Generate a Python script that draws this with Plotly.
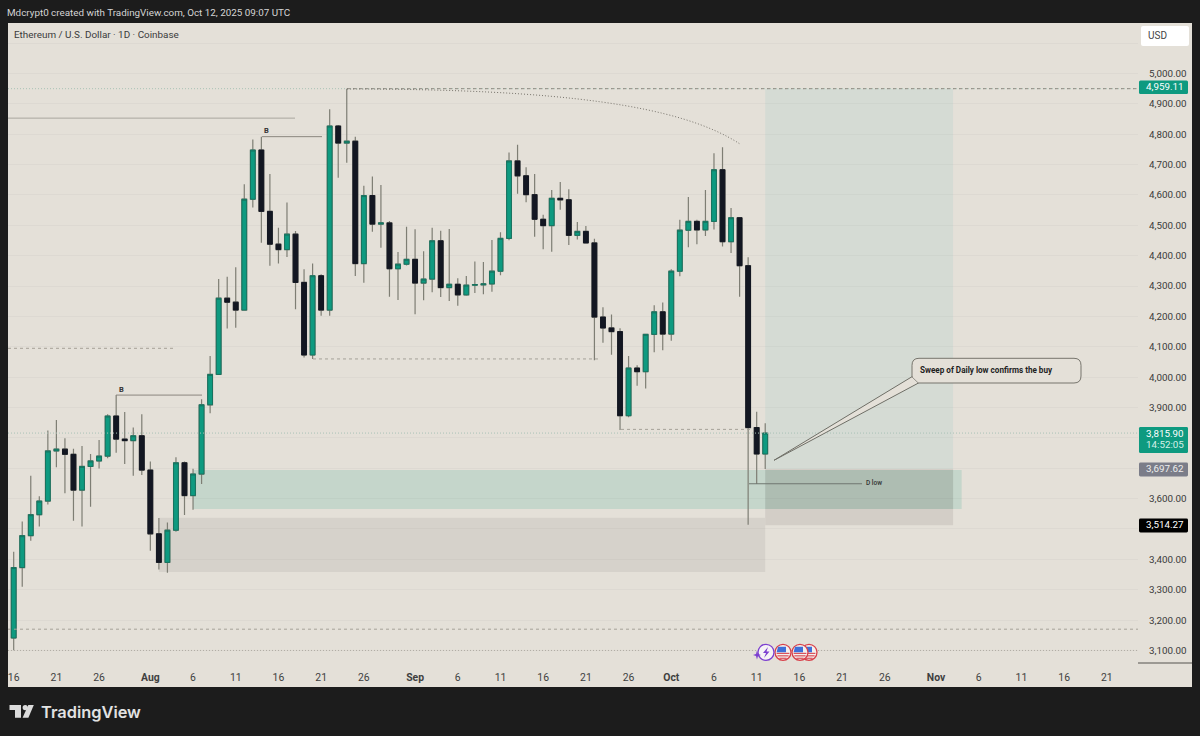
import pandas as pd
import plotly.graph_objects as go

# ---------- data ----------
first_date = "2025-07-16"
opens = [3141,3373,3478,3547,3592,3757,3763,3746,3628,3706,3724,3740,3872,3796,3791,3807,3694,3484,3390,3496,3718,3610,3681,3909,
         4009,4260,4247,4221,4586,4748,4546,4438,4420,4471,4312,4073,4334,4221,4827,4771,4777,4374,4598,4504,4508,4357,
         4372,4388,4310,4323,4449,4295,4306,4271,4303,4304,4307,4349,4457,4712,4663,4601,4520,4499,4589,4584,4467,4480,4442,4198,4162,4150,
         3873,4030,4018,4141,4215,4142,4349,4484,4513,4485,4513,4683,4446,4525,4367,3834,3747]
highs = [3425,3525,3675,3608,3824,3859,3799,3764,3773,3747,3793,3878,3941,3885,3834,3878,3722,3536,3521,3736,3722,3698,3927,4070,
         4323,4331,4362,4635,4783,4792,4669,4492,4575,4481,4355,4374,4339,4882,4830,4950,4792,4630,4661,4633,4514,4412,
         4495,4487,4415,4492,4482,4488,4326,4333,4381,4379,4452,4477,4740,4765,4691,4669,4535,4616,4643,4619,4511,4498,4456,4230,4206,4161,
         4070,4039,4143,4237,4246,4355,4518,4593,4518,4616,4737,4757,4557,4527,4395,3886,3848]
lows = [3101,3310,3461,3508,3581,3703,3618,3527,3508,3573,3699,3733,3751,3714,3675,3678,3428,3367,3356,3491,3546,3563,3648,3881,
        4007,4160,4163,4219,4559,4443,4367,4374,4396,4224,4065,4060,4202,4202,4657,4706,4333,4311,4479,4426,4265,4254,
        4368,4207,4253,4280,4264,4251,4235,4268,4277,4273,4281,4336,4451,4604,4576,4462,4421,4413,4551,4435,4453,4440,4056,4113,4074,3826,
        3868,3972,3963,4082,4089,4120,4332,4428,4438,4465,4486,4430,4409,4265,3514.27,3648,3697.62]
closes = [3373,3478,3547,3592,3757,3763,3746,3628,3706,3724,3740,3872,3796,3791,3807,3694,3484,3390,3496,3718,3610,3681,3909,4009,
          4260,4247,4221,4586,4748,4546,4438,4420,4471,4312,4073,4334,4221,4827,4771,4777,4374,4598,4504,4508,4357,4372,
          4388,4310,4323,4449,4295,4306,4271,4303,4305,4307,4349,4457,4712,4663,4601,4520,4499,4589,4584,4467,4480,4442,4198,4162,4150,3873,
          4030,4018,4141,4215,4142,4349,4484,4513,4485,4513,4683,4446,4525,4367,3834,3747,3815.90]

x_tick_dates = ["2025-07-16","2025-07-21","2025-07-26","2025-08-01","2025-08-06","2025-08-11","2025-08-16","2025-08-21","2025-08-26",
                "2025-09-01","2025-09-06","2025-09-11","2025-09-16","2025-09-21","2025-09-26","2025-10-01","2025-10-06","2025-10-11",
                "2025-10-16","2025-10-21","2025-10-26","2025-11-01","2025-11-06","2025-11-11","2025-11-16","2025-11-21"]
x_tick_text = ["16","21","26","<b>Aug</b>","6","11","16","21","26","<b>Sep</b>","6","11","16","21","26","<b>Oct</b>","6","11",
               "16","21","26","<b>Nov</b>","6","11","16","21"]
y_ticks = [3100,3200,3300,3400,3500,3600,3700,3800,3900,4000,4100,4200,4300,4400,4500,4600,4700,4800,4900,5000,5100]
y_tick_text = ["3,100.00","3,200.00","3,300.00","3,400.00","","3,600.00","","","3,900.00","4,000.00","4,100.00","4,200.00",
               "4,300.00","4,400.00","4,500.00","4,600.00","4,700.00","4,800.00","4,900.00","5,000.00",""]

ath_price = 4959.11
last_price = 3815.90
level_grey = 3697.62
level_black = 3514.27

# ---------- style ----------
BG = "#e4e0d8"; DARK = "#1c1c1c"; TEAL = "#0e9a80"; TEAL_EDGE = "#17735f"; BLACK = "#131722"; WICK = "#7e7e74"; LINE = "#8a867e"
DASH = "3px,3px"; DOT = "1px,2px"
W, H = 1200, 736
L, R, T, B = 8, 1138, 23, 663

def px(x): return (x - L) / (R - L)
def py(y): return (B - y) / (B - T)

dates = pd.date_range(first_date, periods=len(opens)).strftime("%Y-%m-%d").tolist()
body_hi = [max(o, c) for o, c in zip(opens, closes)]
body_lo = [min(o, c) for o, c in zip(opens, closes)]

fig = go.Figure()
fig.add_trace(go.Candlestick(x=dates, open=opens, high=highs, low=lows, close=closes, name="wicks",
    increasing=dict(line=dict(color=WICK, width=1.2), fillcolor=TEAL),
    decreasing=dict(line=dict(color=WICK, width=1.2), fillcolor=BLACK),
    whiskerwidth=0, hoverinfo="skip", showlegend=False))
fig.add_trace(go.Candlestick(x=dates, open=opens, high=body_hi, low=body_lo, close=closes, name="bodies",
    increasing=dict(line=dict(color=TEAL_EDGE, width=1), fillcolor=TEAL),
    decreasing=dict(line=dict(color=BLACK, width=1), fillcolor=BLACK),
    whiskerwidth=0, hoverinfo="skip", showlegend=False))

shapes = []
def rect_data(x0, x1, y0, y1, color):
    shapes.append(dict(type="rect", xref="x", yref="y", x0=x0, x1=x1, y0=y0, y1=y1, fillcolor=color, line_width=0, layer="below"))
def hline(y, x0, x1, color=LINE, dash="solid", width=1):
    shapes.append(dict(type="line", xref="paper", yref="y", x0=px(x0), x1=px(x1), y0=y, y1=y, line=dict(color=color, dash=dash, width=width), layer="above"))
def path(d, fill=None, color=None, width=1, dash="solid", layer="above"):
    shapes.append(dict(type="path", xref="paper", yref="paper", path=d, fillcolor=fill or "rgba(0,0,0,0)",
                       line=dict(color=color or "rgba(0,0,0,0)", width=width if color else 0, dash=dash), layer=layer))
def poly(pts, close=True):
    s = " ".join(("M" if i == 0 else "L") + f" {px(a):.5f} {py(b):.5f}" for i, (a, b) in enumerate(pts))
    return s + (" Z" if close else "")
def rrect(x0, y0, x1, y1, r):
    p = lambda a, b: f"{px(a):.5f} {py(b):.5f}"
    return (f"M {p(x0+r,y0)} L {p(x1-r,y0)} Q {p(x1,y0)} {p(x1,y0+r)} L {p(x1,y1-r)} Q {p(x1,y1)} {p(x1-r,y1)} "
            f"L {p(x0+r,y1)} Q {p(x0,y1)} {p(x0,y1-r)} L {p(x0,y0+r)} Q {p(x0,y0)} {p(x0+r,y0)} Z")
def circle(cx, cy, r, fill, color, width=1.2):
    shapes.append(dict(type="circle", xref="paper", yref="paper", x0=px(cx-r), x1=px(cx+r), y0=py(cy+r), y1=py(cy-r),
                       fillcolor=fill, line=dict(color=color, width=width), layer="above"))

# chart panel
shapes.append(dict(type="rect", xref="paper", yref="paper", x0=px(8), x1=px(1192), y0=py(687), y1=py(23), fillcolor=BG, line_width=0, layer="below"))

# zones
rect_data("2025-10-12", "2025-11-03", 3697.62, 4950, "#d5dbd4")
rect_data("2025-08-02", "2025-10-12", 3358, 3537, "#d6d2cb")
rect_data("2025-10-12", "2025-11-03", 3512, 3697.62, "#d3cec7")
rect_data("2025-08-06", "2025-11-04", 3566, 3694, "#c5d6cb")
rect_data("2025-10-12", "2025-11-03", 3566, 3694, "#aebdb2")

# horizontal levels
hline(4950, 8, 1138, "#a9c2b6", DOT)
hline(4950, 347, 1138, "#8f8b83", DASH)
hline(4853, 8, 295, "#aaa69e", "solid", 1)
hline(4095, 8, 175, "#a5a198", DASH)
hline(4060, 313, 600, "#a5a198", DASH)
hline(3828, 621, 750, "#a5a198", DASH)
hline(last_price, 8, 1138, "#a9c2b6", DOT)
hline(3170, 8, 1138, "#a5a198", DASH)
hline(3100, 8, 1138, "#b0aca4", DOT)
hline(3941, 116, 202, LINE)
hline(4792, 262, 322, LINE)
hline(3649, 749, 862, "#6f7770")

# curve from the high
path(f"M {px(347)} {py(89)} C {px(560)} {py(89)} {px(680)} {py(105)} {px(740)} {py(144)}", color="#77736b", dash=DOT)

# axis separator on the price scale
shapes.append(dict(type="line", xref="paper", yref="paper", x0=1, x1=px(1192), y0=0, y1=0, line=dict(color="#55534f", width=1), layer="above"))

# callout
path(rrect(912, 358.3, 1081, 383, 7), fill=BG, color="#77756d", width=1)
path(poly([(912,376.7),(774,460.3),(918.5,383)]), fill=BG, color="#6f6f67", width=1)
path(poly([(912.6,377),(918.5,382.4),(925,377),(918,371)]), fill=BG)

# right-side price label boxes
def lab_box(y0, y1, color):
    path(rrect(1139, y0, 1188, y1, 1.5), fill=color)
lab_box(80.5, 94, "#0e9a80")
lab_box(427, 453, "#0e9a80")
lab_box(462.5, 476.5, "#7b7d89")
lab_box(518.5, 532.5, "#000000")
path(rrect(1141, 26, 1189, 46, 2), fill="#ffffff")

# TradingView logo
LOGO = "#dcdcdc"
path(poly([(9.5,705),(21,705),(21,717.7),(15,717.7),(15,710),(9.5,710)]), fill=LOGO)
circle(25.2, 707.6, 2.6, LOGO, LOGO, 0)
path(poly([(28.3,705),(33.8,705),(28.4,717.7),(22.6,717.7)]), fill=LOGO)

# event icons
def flag(cx, cy, r=8):
    circle(cx, cy, r, "#f4f0ee", "#d8404a", 1.3)
    for dy, half in ((0.5, 6.4), (3, 5.6), (5.4, 3.6)):
        path(poly([(cx-half,cy+dy),(cx+half,cy+dy),(cx+half,cy+dy+1.1),(cx-half,cy+dy+1.1)]), fill="#d8404a")
    path(poly([(cx-5,cy-5.5),(cx+3,cy-5.5),(cx+3,cy),(cx-6.4,cy)]), fill="#3f6fd8")
flag(809, 652.3); flag(800, 652.3); flag(783, 652.3)
circle(766, 652.3, 8, "#f6f3f6", "#7c3fd0", 1.3)
path(poly([(768,647),(763,653),(766,653),(764,658),(769.5,651.5),(766.5,651.5)]), fill="#7c3fd0")
path(poly([(757,650.5),(758,654),(761,655),(758,656),(757,659.5),(756,656),(753,655),(756,654)]), fill="#7c3fd0")

# ---------- text ----------
ann = []
def txt(x, y, s, size, color, anchor="left", font="Roboto", weight=None):
    ann.append(dict(xref="paper", yref="paper", x=px(x), y=py(y), text=s, showarrow=False, xanchor=anchor, yanchor="middle",
                    font=dict(family=font, size=size, color=color, weight=weight), borderpad=0, borderwidth=0))
txt(7, 12.5, "Mdcrypt0 created with TradingView.com, Oct 12, 2025 09:07 UTC", 9.85, "#d4d4d4")
txt(14, 34.5, "Ethereum / U.S. Dollar · 1D · Coinbase", 9.9, "#3b3b3b")
txt(1148.5, 36, "USD", 10, "#444444")
txt(1145.5, 87, f"{ath_price:,.2f}", 9.8, "#ffffff")
txt(1145.5, 433, f"{last_price:,.2f}", 9.8, "#ffffff")
txt(1145.5, 444.5, "14:52:05", 9.8, "#d6f0e8")
txt(1145.5, 468.5, f"{level_grey:,.2f}", 9.8, "#eeeeee")
txt(1145.5, 524.5, f"{level_black:,.2f}", 9.8, "#ffffff")
txt(919.5, 370, "Sweep of Daily low confirms the buy", 8.15, "#1e1e1e", weight=700)
txt(865.5, 483, "D low", 6.5, "#333333", weight=500)
txt(121, 389, "B", 7.5, "#333333", weight=700, anchor="center")
txt(266.5, 130.5, "B", 7.5, "#333333", weight=700, anchor="center")
txt(40.5, 711.5, "TradingView", 16.4, "#e2e2e2", font="Inter", weight=600)

fig.update_layout(
    width=W, height=H, autosize=False,
    margin=dict(l=L, r=W-R, t=T, b=H-B, pad=0),
    paper_bgcolor=DARK, plot_bgcolor="rgba(0,0,0,0)",
    showlegend=False, boxgap=0.2, shapes=shapes, annotations=ann,
    font=dict(family="Roboto", size=10, color="#3a3a3a"),
    xaxis=dict(type="date", range=["2025-07-15 08:00", "2025-11-24 15:36"], rangeslider=dict(visible=False),
               showgrid=False, zeroline=False, showline=False, tickmode="array", tickvals=x_tick_dates, ticktext=x_tick_text,
               ticks="outside", ticklen=5, tickcolor="rgba(0,0,0,0)", tickangle=0, tickfont=dict(size=10.4, color="#3f3f3f")),
    yaxis=dict(range=[3058.7, 5166.3], side="right", showgrid=True, gridcolor="rgba(0,0,0,0.028)", gridwidth=1, zeroline=False, showline=False,
               tickmode="array", tickvals=y_ticks, ticktext=y_tick_text, ticks="outside", ticklen=8, tickcolor="rgba(0,0,0,0)",
               tickfont=dict(size=9.8, color="#3a3a3a")),
)
fig.write_html("out.html", config=dict(displayModeBar=False, staticPlot=True),
               post_script="document.body.style.margin='0';document.body.style.background='#1c1c1c';")
